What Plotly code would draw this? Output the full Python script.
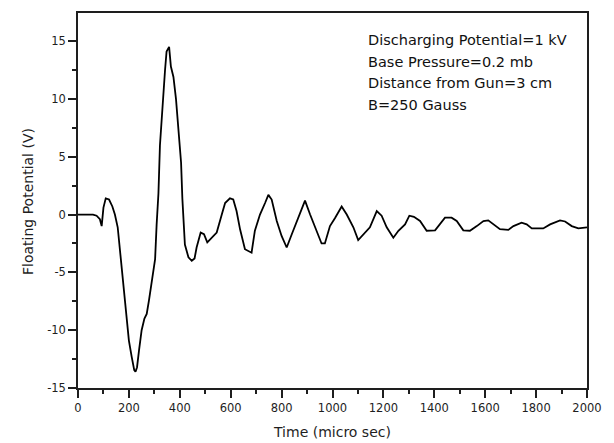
import plotly.graph_objects as go

time_us = [0, 30, 59, 73, 86, 93, 100, 109, 122, 135, 145, 156, 165, 172, 182, 191, 200,
           211, 221, 226, 232, 240, 250, 261, 270, 279, 292, 303, 309, 316, 322, 331, 342,
           348, 358, 365, 375, 385, 394, 405, 410, 414, 420, 434, 447, 458, 466, 482, 495,
           508, 525, 545, 565, 578, 597, 610, 623, 637, 656, 682, 695, 715, 735, 748, 761,
           781, 800, 820, 840, 866, 892, 912, 931, 957, 970, 990, 1010, 1036, 1056, 1082,
           1101, 1128, 1147, 1174, 1193, 1213, 1239, 1259, 1285, 1302, 1320, 1344, 1370,
           1403, 1422, 1442, 1468, 1488, 1514, 1540, 1567, 1593, 1612, 1632, 1658, 1691,
           1711, 1743, 1763, 1783, 1828, 1855, 1894, 1914, 1940, 1966, 2000]
potential_v = [0, 0, 0, -0.1, -0.4, -1.0, 0.6, 1.4, 1.3, 0.7, 0.0, -1.1, -3.1, -5.1, -7.4,
               -9.4, -10.9, -12.3, -13.45, -13.6, -13.2, -11.7, -10.0, -9.0, -8.6, -7.4, -5.6,
               -3.85, -0.85, 1.8, 6.0, 9.3, 12.5, 14.1, 14.5, 12.8, 11.9, 10.0, 7.6, 4.5, 1.4,
               -0.85, -2.6, -3.7, -4.0, -3.8, -2.85, -1.56, -1.7, -2.4, -2.0, -1.56, 0.0, 1.0,
               1.4, 1.3, 0.3, -1.3, -3.0, -3.3, -1.4, 0.0, 1.0, 1.7, 1.3, -0.56, -1.85, -2.85,
               -1.7, -0.3, 1.2, 0.0, -1.1, -2.5, -2.5, -1.0, -0.3, 0.7, 0.0, -1.1, -2.2, -1.56,
               -1.1, 0.3, -0.1, -1.1, -2.0, -1.4, -0.85, -0.1, -0.2, -0.56, -1.4, -1.36, -0.85,
               -0.27, -0.27, -0.56, -1.36, -1.4, -1.0, -0.56, -0.5, -0.85, -1.27, -1.33, -1.0,
               -0.7, -0.85, -1.2, -1.2, -0.85, -0.5, -0.6, -1.0, -1.2, -1.1]

x_ticks = [0, 200, 400, 600, 800, 1000, 1200, 1400, 1600, 1800, 2000]
x_ticktext = ["0", "200", "400", "600", "800", "1000", "1200", "1400", "1600", "1800", "2000"]
y_ticks = [-15, -10, -5, 0, 5, 10, 15]
y_ticktext = ["-15", "-10", "-5", "0", "5", "10", "15"]
info_lines = ["Discharging Potential=1 kV", "Base Pressure=0.2 mb",
              "Distance from Gun=3 cm", "B=250 Gauss"]
x_title = "Time (micro sec)"
y_title = "Floating Potential (V)"

FONT = "DejaVu Sans, Verdana, sans-serif"
INK = "#1e1e1e"

fig = go.Figure()
fig.add_trace(go.Scatter(x=time_us, y=potential_v, mode="lines",
                         line=dict(color="black", width=1.8), showlegend=False,
                         hoverinfo="skip"))

axis_common = dict(showline=True, linecolor=INK, linewidth=1.5, mirror=True,
                   showgrid=False, zeroline=False, ticks="outside", ticklen=8,
                   tickwidth=1.5, tickcolor=INK,
                   tickfont=dict(family=FONT, size=11.5, color=INK))

fig.update_xaxes(range=[0, 2000], tickvals=x_ticks, ticktext=x_ticktext,
                 minor=dict(dtick=100, ticks="outside", ticklen=4, tickwidth=1.5,
                            tickcolor=INK),
                 **axis_common)
fig.update_yaxes(range=[-15, 17.43], tickvals=y_ticks, ticktext=y_ticktext,
                 minor=dict(dtick=2.5, ticks="outside", ticklen=4, tickwidth=1.5,
                            tickcolor=INK),
                 **axis_common)

# axis titles
fig.add_annotation(text=x_title, xref="paper", yref="paper", x=0.499, y=-0.1167,
                   xanchor="center", yanchor="middle", showarrow=False,
                   font=dict(family=FONT, size=14, color=INK))
fig.add_annotation(text=y_title, xref="paper", yref="paper", x=-0.0982, y=0.496,
                   xanchor="center", yanchor="middle", showarrow=False, textangle=-90,
                   font=dict(family=FONT, size=14, color=INK))

# info text
line_y = [0.927, 0.870, 0.813, 0.756]
for txt, yy in zip(info_lines, line_y):
    fig.add_annotation(text=txt, xref="paper", yref="paper", x=0.5657, y=yy,
                       xanchor="left", yanchor="middle", showarrow=False,
                       font=dict(family=FONT, size=14.5, color="#111111"))

fig.update_layout(width=606, height=435, margin=dict(l=70, r=27, t=3, b=55),
                  paper_bgcolor="white", plot_bgcolor="white")

fig.write_html("out.html")
